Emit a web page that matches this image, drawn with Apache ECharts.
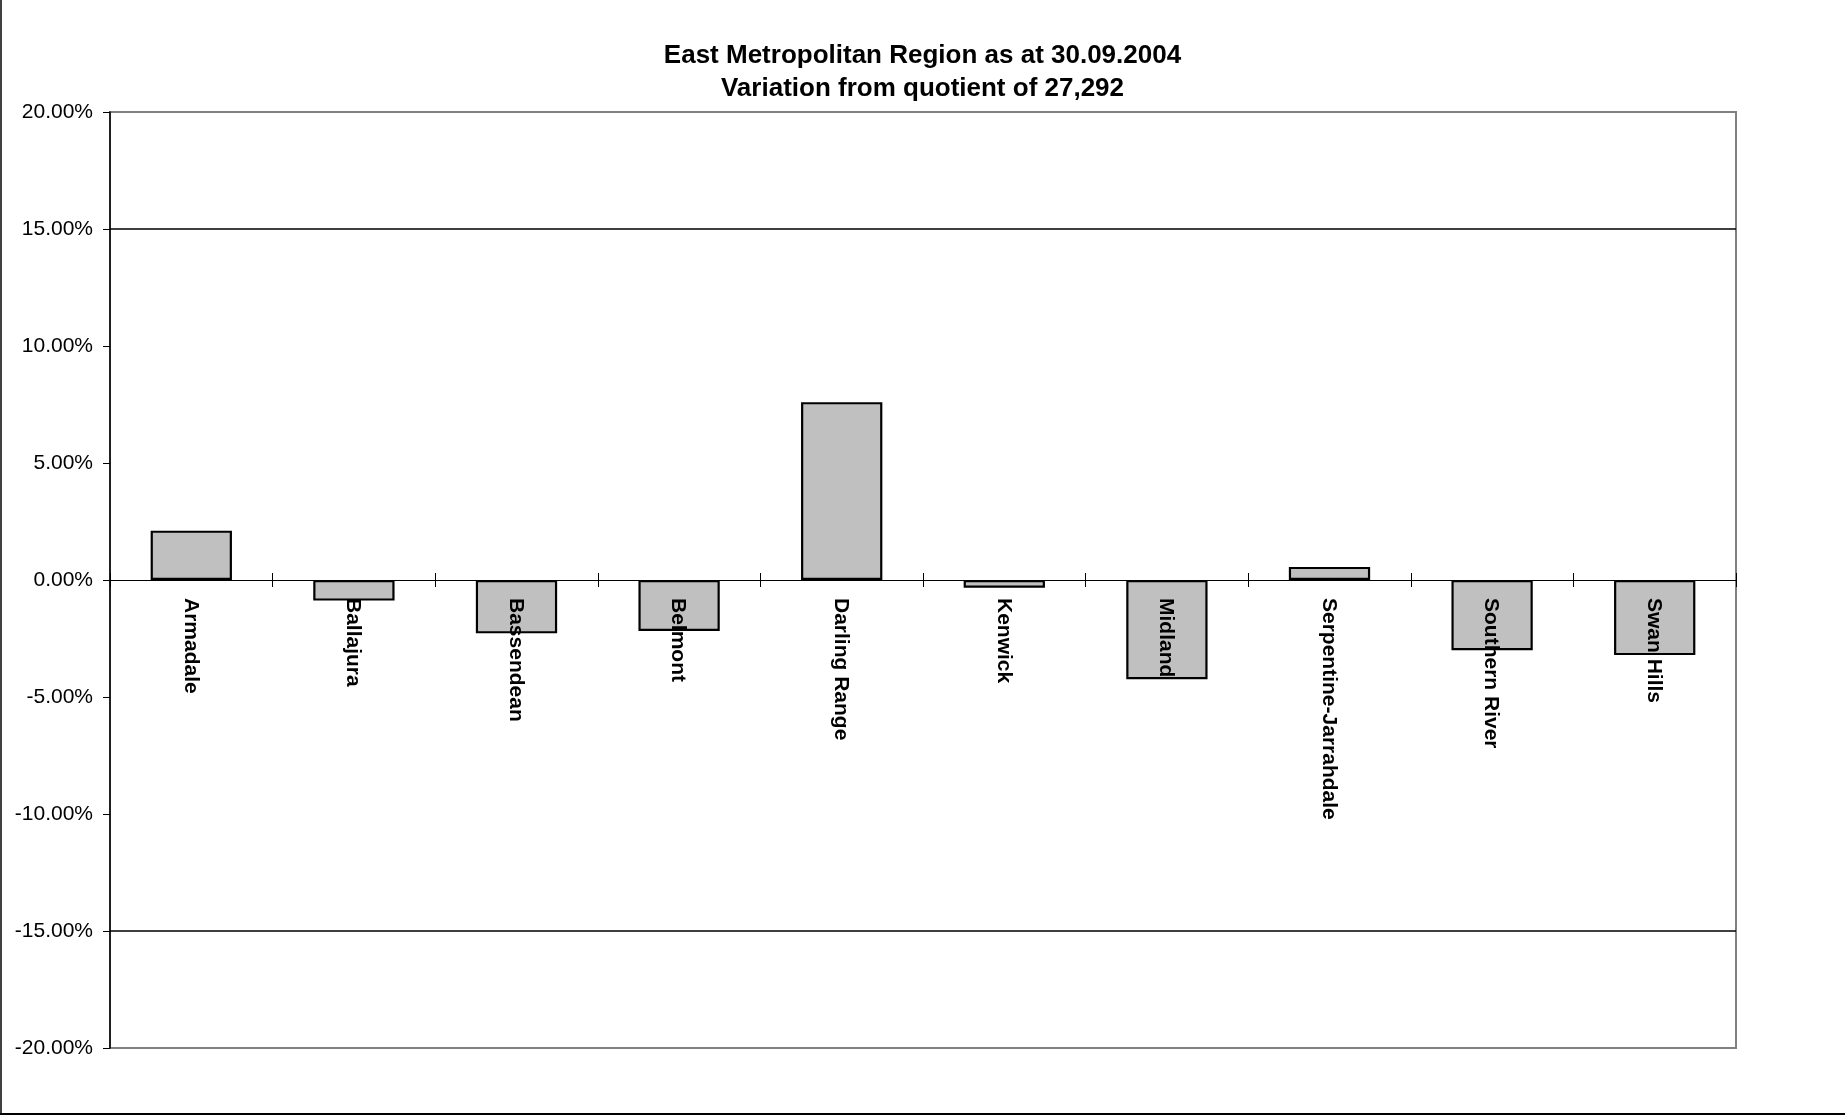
<!DOCTYPE html>
<html>
<head>
<meta charset="utf-8">
<script src="https://cdn.jsdelivr.net/npm/echarts@6/dist/echarts.min.js"></script>
<style>
html,body{margin:0;padding:0;background:#fff;}
#chart{width:1845px;height:1117px;}
</style>
</head>
<body>
<div id="chart"></div>
<script>
const titleLines = ['East Metropolitan Region as at 30.09.2004', 'Variation from quotient of 27,292'];
const categories = ['Armadale', 'Ballajura', 'Bassendean', 'Belmont', 'Darling Range', 'Kenwick', 'Midland', 'Serpentine-Jarrahdale', 'Southern River', 'Swan Hills'];
const variation = [2.11, -0.88, -2.28, -2.18, 7.60, -0.33, -4.24, 0.56, -3.00, -3.21];
const toleranceLines = [15, -15];
const yTicks = { min: -20, max: 20, interval: 5 };

const FONT = "'Liberation Sans', Arial, sans-serif";
const chart = echarts.init(document.getElementById('chart'), null, { renderer: 'canvas' });

chart.setOption({
  backgroundColor: '#ffffff',
  animation: false,
  title: {
    text: titleLines.join('\n'),
    left: 'center',
    top: 34,
    textStyle: { fontFamily: FONT, fontSize: 26, fontWeight: 'bold', color: '#000', lineHeight: 33 }
  },
  grid: {
    left: 110, right: 109, top: 112, bottom: 69,
    outerBoundsMode: 'none', containLabel: false,
    show: true, borderColor: '#808080', borderWidth: 2, backgroundColor: 'transparent'
  },
  xAxis: [
    {
      type: 'category',
      data: categories,
      axisLine: { show: true, onZero: true, lineStyle: { color: '#000', width: 1 } },
      axisTick: { show: true, length: 7, interval: 0, lineStyle: { color: '#000', width: 1 } },
      axisLabel: { show: false },
      splitLine: { show: false }
    },
    {
      type: 'category',
      data: categories,
      position: 'top',
      axisLine: { show: true, onZero: true, onZeroAxisIndex: 0, lineStyle: { color: '#000', width: 1 } },
      axisTick: { show: true, length: 7, interval: 0, lineStyle: { color: '#000', width: 1 } },
      axisLabel: { show: false },
      splitLine: { show: false }
    }
  ],
  yAxis: {
    type: 'value',
    min: yTicks.min, max: yTicks.max, interval: yTicks.interval,
    axisLine: { show: true, lineStyle: { color: '#000', width: 1.5 } },
    axisTick: { show: true, length: 7, lineStyle: { color: '#000', width: 1 } },
    axisLabel: {
      margin: 17, fontFamily: FONT, fontSize: 21, color: '#000',
      formatter: v => v.toFixed(2) + '%'
    },
    splitLine: { show: false }
  },
  series: [
    {
      type: 'bar',
      data: variation,
      xAxisIndex: 0,
      barWidth: '50%',
      z: 3,
      itemStyle: { color: '#c0c0c0', borderColor: '#000', borderWidth: 2.2 },
      markLine: {
        silent: true,
        symbol: ['none', 'none'],
        label: { show: false },
        lineStyle: { color: '#000', type: 'solid', width: 1.5 },
        data: toleranceLines.map(v => ({ yAxis: v }))
      }
    },
    {
      // category labels hanging from the zero line, as in the original
      type: 'custom',
      xAxisIndex: 0,
      z: 5,
      silent: true,
      data: categories.map(name => [name, 0]),
      renderItem: function (params, api) {
        const p = api.coord([api.value(0), 0]);
        return {
          type: 'text',
          x: p[0] - 1,
          y: p[1] + 18,
          rotation: -Math.PI / 2,
          style: {
            text: categories[params.dataIndex],
            x: 0, y: 0,
            align: 'left',
            verticalAlign: 'middle',
            fontFamily: FONT,
            fontSize: 21,
            fontWeight: 'bold',
            fill: '#000'
          }
        };
      }
    }
  ],
  graphic: [
    { type: 'line', shape: { x1: 1, y1: 0, x2: 1, y2: 1115 }, style: { stroke: '#404040', lineWidth: 2 } },
    { type: 'line', shape: { x1: 0, y1: 1114, x2: 1845, y2: 1114 }, style: { stroke: '#000', lineWidth: 2 } }
  ]
});
</script>
</body>
</html>
